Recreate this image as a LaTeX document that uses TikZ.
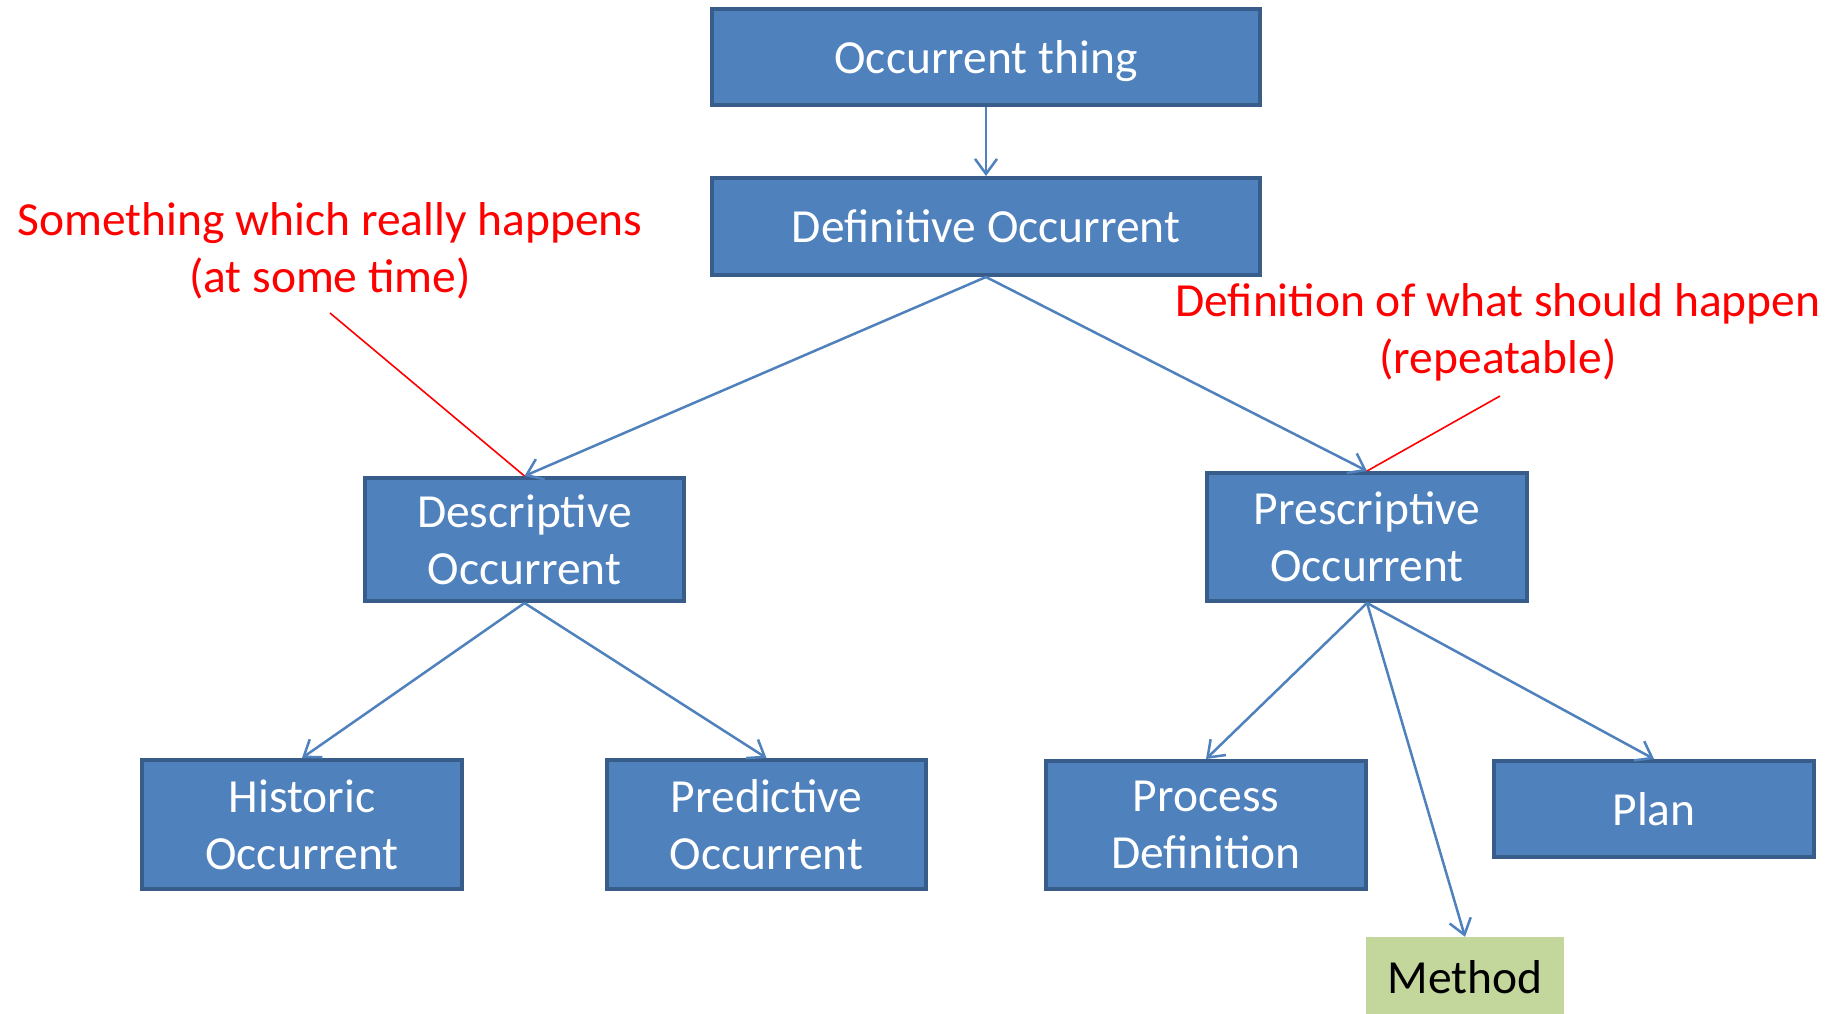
\documentclass[tikz,border=0pt]{standalone}
\usepackage{fontspec}
\setmainfont{Carlito}
\usetikzlibrary{arrows.meta}
\definecolor{boxblue}{HTML}{4F81BD}
\definecolor{boxedge}{HTML}{385D8A}
\definecolor{methodgreen}{HTML}{C3D69B}
\definecolor{annred}{HTML}{FF0000}
\begin{document}
\begin{tikzpicture}[x=1pt,y=-1pt,
  txt/.style={font=\fontsize{47.5}{57}\selectfont, align=center, inner sep=0pt},
  box/.style={txt, draw=boxedge, fill=boxblue, line width=4pt, text=white},
  greenbox/.style={txt, fill=methodgreen, text=black},
  note/.style={txt, text=annred},
  conn/.style={draw=boxblue, line width=2.5pt, -{Straight Barb[length=15pt,width=22pt,line width=2.5pt]}},
  redline/.style={draw=annred, line width=1.6pt}]
\useasboundingbox (0,0) rectangle (1839,1013);
\fill[white] (0,0) rectangle (1839,1013);
\node[box, minimum width=548pt, minimum height=96pt, text depth=0pt] (top) at (986,57) {Occurrent thing};
\node[box, minimum width=548pt, minimum height=97pt] (def) at (986,226.5) {Definitive Occurrent};
\node[box, minimum width=319pt, minimum height=123pt] (desc) at (524.5,539.5) {Descriptive\\Occurrent};
\node[box, minimum width=320pt, minimum height=128pt] (presc) at (1367,537) {Prescriptive\\Occurrent};
\node[box, minimum width=320pt, minimum height=129pt] (hist) at (302,824.5) {Historic\\Occurrent};
\node[box, minimum width=319pt, minimum height=129pt] (pred) at (766.5,824.5) {Predictive\\Occurrent};
\node[box, minimum width=320pt, minimum height=128pt] (proc) at (1206,825) {Process\\Definition};
\node[box, minimum width=320pt, minimum height=96pt] (plan) at (1654,809) {Plan};
\node[greenbox, minimum width=198pt, minimum height=80pt] (method) at (1465,977) {Method};
\node[note] (n1) at (330,250.5) {Something which really happens\\(at some time)};
\node[note] (n2) at (1498,332.5) {Definition of what should happen\\(repeatable)};
\draw[conn] (top.south) -- (def.north);
\draw[conn] (def.south) -- (desc.north);
\draw[conn] (def.south) -- (presc.north);
\draw[conn] (desc.south) -- (hist.north);
\draw[conn] (desc.south) -- (pred.north);
\draw[conn] (presc.south) -- (proc.north);
\draw[conn] (presc.south) -- (plan.north);
\draw[conn] (presc.south) -- (method.north);
\coordinate (r1) at (330,313);
\coordinate (r2) at (1500,396);
\draw[redline] (r1) -- (desc.north);
\draw[redline] (r2) -- (presc.north);
\end{tikzpicture}
\end{document}
